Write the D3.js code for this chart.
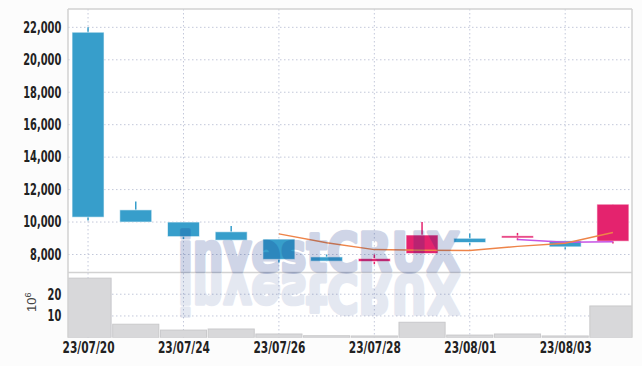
<!DOCTYPE html>
<html>
<head>
<meta charset="utf-8">
<script src="https://cdn.jsdelivr.net/npm/d3@7"></script>
<style>
  html, body { margin: 0; padding: 0; background: #fcfcfc; }
  svg { display: block; }
  .tick text { font-family: "Liberation Sans Narrow", "DejaVu Sans Condensed", sans-serif; font-weight: bold; font-size: 15px; fill: #222; }
</style>
</head>
<body>
<svg id="chart" width="642" height="366"></svg>
<script>
// daily candles, 23/07/20 .. 23/08/04
const dates = ["23/07/20", "23/07/21", "23/07/24", "23/07/25", "23/07/26", "23/07/27",
               "23/07/28", "23/07/31", "23/08/01", "23/08/02", "23/08/03", "23/08/04"];
const openPx  = [21700, 10750, 10000, 9400, 8950, 7850, 7570, 8060, 9000, 9020, 8840, 8820];
const highPx  = [22000, 11270, 10000, 9760, 8950, 8000, 8000, 10000, 9300, 9330, 8840, 11100];
const lowPx   = [10100, 10000, 8950, 8880, 7500, 7590, 7400, 8060, 8570, 8880, 8330, 8680];
const closePx = [10300, 10000, 9100, 8880, 7700, 7590, 7750, 9200, 8740, 9150, 8470, 11100];
// moving averages
const ma5  = [null, null, null, null, 9270, 8720, 8300, 8260, 8250, 8500, 8700, 9350];
const ma10 = [null, null, null, null, null, null, null, null, null, 8920, 8760, 8780];
// volume, millions
const volume = [27.4, 6.2, 3.5, 4.0, 1.7, 0.9, 0.8, 7.1, 1.2, 1.7, 0.8, 14.6];

const priceTicks = [8000, 10000, 12000, 14000, 16000, 18000, 20000, 22000];
const volTicks = [10, 20];
const dateTicks = [0, 2, 4, 6, 8, 10];

const pLeft = 68, pRight = 632, pTop = 9, pMid = 272.5, pBottom = 337.7;

const svg = d3.select("#chart");

const x = d3.scaleLinear().domain([-0.42, 11.4]).range([pLeft, pRight]);
const step = x(1) - x(0);
const y = d3.scaleLinear().domain([6890, 23130]).range([pMid, pTop]);
const yv = d3.scaleLinear().domain([0, 30]).range([pBottom, pMid]);

const upColor = "#e4236e", downColor = "#379ecb";
const gridColor = "#c3c8da";

svg.append("rect").attr("x", pLeft).attr("y", pTop)
    .attr("width", pRight - pLeft).attr("height", pBottom - pTop).attr("fill", "#fff");

svg.append("clipPath").attr("id", "plotclip")
  .append("rect").attr("x", pLeft).attr("y", pTop).attr("width", pRight - pLeft).attr("height", pBottom - pTop);

// grid
const grid = svg.append("g");
grid.selectAll(".hg").data(priceTicks).enter().append("line")
    .attr("x1", pLeft).attr("x2", pRight)
    .attr("y1", d => y(d)).attr("y2", d => y(d))
    .attr("stroke", gridColor).attr("stroke-dasharray", "1.5,2.5");
grid.selectAll(".vg").data(volTicks).enter().append("line")
    .attr("x1", pLeft).attr("x2", pRight)
    .attr("y1", d => yv(d)).attr("y2", d => yv(d))
    .attr("stroke", gridColor).attr("stroke-dasharray", "1.5,2.5");
grid.selectAll(".xg").data(dateTicks).enter().append("line")
    .attr("x1", d => x(d)).attr("x2", d => x(d))
    .attr("y1", pTop).attr("y2", pBottom)
    .attr("stroke", gridColor).attr("stroke-dasharray", "1.5,2.5");

// volume bars
svg.append("g").attr("clip-path", "url(#plotclip)")
  .selectAll("rect").data(volume).enter().append("rect")
    .attr("x", (d, i) => x(i) - step / 2 + 0.8)
    .attr("width", step - 1.6)
    .attr("y", d => yv(d))
    .attr("height", d => pBottom - yv(d))
    .attr("fill", "#d8d8da")
    .attr("stroke", "#c9c9cb");

// frame
const frame = svg.append("g").attr("stroke", "#d2d2d2").attr("stroke-width", 1.5).attr("fill", "none");
frame.append("line").attr("x1", pLeft).attr("x2", pRight).attr("y1", pTop).attr("y2", pTop);
frame.append("line").attr("x1", pLeft).attr("x2", pLeft).attr("y1", pTop).attr("y2", pBottom);
frame.append("line").attr("x1", pRight).attr("x2", pRight).attr("y1", pTop).attr("y2", pBottom);
frame.append("line").attr("x1", pLeft).attr("x2", pRight).attr("y1", pMid).attr("y2", pMid);

// candles
const bodyW = step * 0.67;
const candles = svg.append("g").selectAll("g").data(dates).enter().append("g");
candles.append("line")
    .attr("x1", (d, i) => x(i)).attr("x2", (d, i) => x(i))
    .attr("y1", (d, i) => y(highPx[i])).attr("y2", (d, i) => y(lowPx[i]))
    .attr("stroke", (d, i) => closePx[i] >= openPx[i] ? upColor : downColor)
    .attr("stroke-width", 1.5);
candles.append("rect")
    .attr("x", (d, i) => x(i) - bodyW / 2)
    .attr("width", bodyW)
    .attr("y", (d, i) => y(Math.max(openPx[i], closePx[i])))
    .attr("height", (d, i) => Math.max(2, Math.abs(y(openPx[i]) - y(closePx[i]))))
    .attr("fill", (d, i) => closePx[i] >= openPx[i] ? upColor : downColor)
    .attr("stroke", "rgba(255,255,255,0.6)");

// moving averages
const maLine = d3.line()
    .defined(d => d[1] != null)
    .x(d => x(d[0])).y(d => y(d[1]));
svg.append("path").datum(ma10.map((v, i) => [i, v]))
    .attr("d", maLine).attr("fill", "none")
    .attr("stroke", "#c653e4").attr("stroke-width", 1.5);
svg.append("path").datum(ma5.map((v, i) => [i, v]))
    .attr("d", maLine).attr("fill", "none")
    .attr("stroke", "#ee8449").attr("stroke-width", 1.5);

// watermark + reflection (stroke thickens the letters, opacity on the whole element)
const wm = svg.append("g").attr("font-family", "DejaVu Sans, sans-serif")
    .attr("font-weight", "bold").attr("font-size", 53)
    .attr("fill", "rgb(5,40,130)").attr("stroke", "rgb(5,40,130)")
    .attr("stroke-width", 3.6).attr("stroke-linejoin", "round");
wm.append("text").attr("x", 178).attr("y", pMid - 1.5)
    .attr("textLength", 282).attr("lengthAdjust", "spacingAndGlyphs")
    .attr("opacity", 0.19)
    .text("investCRUX");
wm.append("text").attr("x", 178).attr("y", -pMid - 2.5)
    .attr("transform", "scale(1,-1)")
    .attr("textLength", 282).attr("lengthAdjust", "spacingAndGlyphs")
    .attr("opacity", 0.1)
    .text("investCRUX");

// axes
const yAxis = svg.append("g").attr("transform", `translate(${pLeft - 6},0)`)
    .call(d3.axisLeft(y).tickValues(priceTicks).tickFormat(d3.format(",")).tickSize(0).tickPadding(1));
yAxis.select(".domain").remove();

const vAxis = svg.append("g").attr("transform", `translate(${pLeft - 6},0)`)
    .call(d3.axisLeft(yv).tickValues(volTicks).tickSize(0).tickPadding(1));
vAxis.select(".domain").remove();

// squeeze the labels to the narrow look of the original
yAxis.selectAll(".tick text").attr("transform", "scale(0.73,1)");
vAxis.selectAll(".tick text").attr("transform", "scale(0.73,1)");

const xAxis = svg.append("g").attr("transform", `translate(0,${pBottom + 1})`)
    .call(d3.axisBottom(x).tickValues(dateTicks).tickFormat(i => dates[i]).tickSize(0).tickPadding(3));
xAxis.select(".domain").remove();
xAxis.selectAll(".tick text").style("font-size", "16px")
    .attr("textLength", 52).attr("lengthAdjust", "spacingAndGlyphs");

// volume unit label
const unit = svg.append("text")
    .attr("transform", "translate(36,312) rotate(-90)")
    .attr("font-family", "Liberation Sans, Arial, sans-serif")
    .attr("font-size", 13).attr("fill", "#444");
unit.append("tspan").text("10");
unit.append("tspan").attr("font-size", 9).attr("dy", -5).text("6");
</script>
</body>
</html>
